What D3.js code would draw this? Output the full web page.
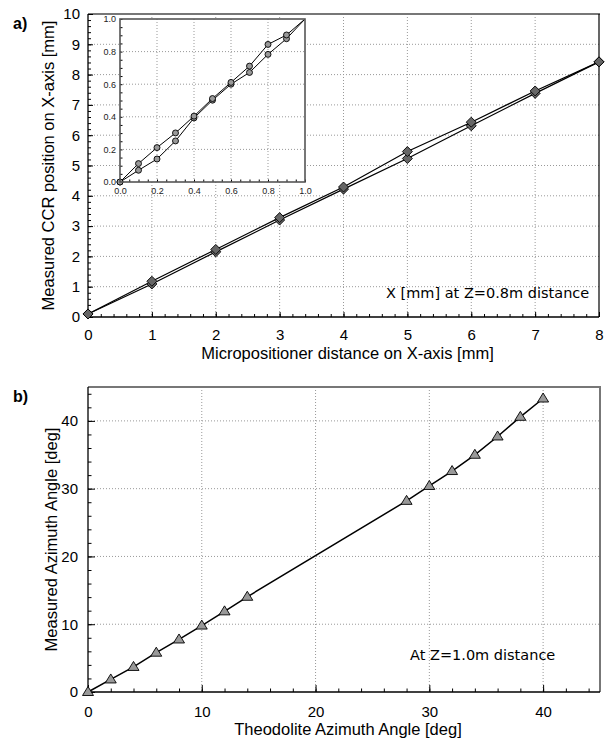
<!DOCTYPE html>
<html>
<head>
<meta charset="utf-8">
<script src="https://cdn.jsdelivr.net/npm/d3@7"></script>
<style>
  body { margin: 0; background: #fff; }
  svg { display: block; }
</style>
</head>
<body>
<svg id="chart" width="607" height="740"></svg>
<script>
// panel a: micropositioner test, two runs
var xA = [0, 1, 2, 3, 4, 5, 6, 7, 8];
var yA1 = [0.1, 1.18, 2.23, 3.28, 4.29, 5.46, 6.43, 7.46, 8.42];
var yA2 = [0.1, 1.09, 2.15, 3.2, 4.22, 5.23, 6.31, 7.38, 8.42];

// inset: 0..1 mm in 0.1 steps
var xIn = [0, 0.1, 0.2, 0.3, 0.4, 0.5, 0.6, 0.7, 0.8, 0.9, 1.0];
var yIn1 = [0, 0.113, 0.211, 0.301, 0.404, 0.512, 0.611, 0.711, 0.844, 0.902, 1.0];
var yIn2 = [0, 0.072, 0.141, 0.252, 0.393, 0.502, 0.600, 0.672, 0.783, 0.879, 1.0];

// panel b: azimuth
var xB = [0, 2, 4, 6, 8, 10, 12, 14, 28, 30, 32, 34, 36, 38, 40];
var yB = [0, 1.85, 3.7, 5.8, 7.75, 9.8, 11.9, 14.05, 28.2, 30.4, 32.6, 35.0, 37.7, 40.6, 43.3];

var aTicks = [0, 1, 2, 3, 4, 5, 6, 7, 8];
var aYTicks = [0, 1, 2, 3, 4, 5, 6, 7, 8, 9, 10];
var inTicks = [0, 0.2, 0.4, 0.6, 0.8, 1.0];
var bTicks = [0, 10, 20, 30, 40];

var svg = d3.select("#chart");
var sans = "Liberation Sans, Arial, sans-serif";

var diamond = "M0,-5L5,0L0,5L-5,0Z",
  triangle = "M0,-5.5L5.5,3.5L-5.5,3.5Z";

function zip(xs, ys) {
  return xs.map(function(x, i) { return {x: x, y: ys[i]}; });
}

function drawPanel(p) {
  var x = d3.scaleLinear().domain(p.xDomain).range([p.left, p.right]),
    y = d3.scaleLinear().domain(p.yDomain).range([p.bottom, p.top]),
    g = svg.append("g");

  // dotted grid
  g.selectAll(".gx").data(p.xTicks.filter(function(t) { return t > p.xDomain[0] && t < p.xDomain[1]; }))
    .enter().append("line")
    .attr("x1", function(d) { return x(d); }).attr("x2", function(d) { return x(d); })
    .attr("y1", p.top).attr("y2", p.bottom)
    .attr("stroke", "#999").attr("stroke-dasharray", "1,2");
  g.selectAll(".gy").data(p.yTicks.filter(function(t) { return t > p.yDomain[0] && t < p.yDomain[1]; }))
    .enter().append("line")
    .attr("y1", function(d) { return y(d); }).attr("y2", function(d) { return y(d); })
    .attr("x1", p.left).attr("x2", p.right)
    .attr("stroke", "#999").attr("stroke-dasharray", "1,2");

  // frame
  g.append("line").attr("x1", p.left).attr("x2", p.right + 1).attr("y1", p.top).attr("y2", p.top)
    .attr("stroke", "#777").attr("stroke-width", 2);
  g.append("line").attr("x1", p.right).attr("x2", p.right).attr("y1", p.top).attr("y2", p.bottom)
    .attr("stroke", p.rightColor).attr("stroke-width", p.rightWidth);

  var xAxis = d3.axisBottom(x).tickValues(p.xMinor).tickSize(-p.minorLen).tickFormat("");
  var yAxis = d3.axisLeft(y).tickValues(p.yMinor).tickSize(-p.minorLen).tickFormat("");
  g.append("g").attr("transform", "translate(0," + p.bottom + ")").call(xAxis)
    .call(function(s) { s.select(".domain").remove(); });
  g.append("g").attr("transform", "translate(" + p.left + ",0)").call(yAxis)
    .call(function(s) { s.select(".domain").remove(); });

  g.append("g").attr("transform", "translate(0," + p.bottom + ")")
    .call(d3.axisBottom(x).tickValues(p.xTicks).tickSize(-p.majorLen).tickPadding(p.majorLen + 7).tickFormat(d3.format("d")))
    .call(function(s) {
      s.select(".domain").attr("d", "M" + p.left + ",0H" + p.right).attr("stroke-width", 1.3);
      s.selectAll("text").style("font-size", "15px").style("font-family", sans);
    });
  g.append("g").attr("transform", "translate(" + p.left + ",0)")
    .call(d3.axisLeft(y).tickValues(p.yTicks).tickSize(-p.majorLen).tickPadding(p.majorLen + 3).tickFormat(d3.format("d")))
    .call(function(s) {
      s.select(".domain").attr("d", "M0," + p.bottom + "V" + p.top).attr("stroke-width", 1.3);
      s.selectAll("text").style("font-size", "15px").style("font-family", sans);
    });

  g.append("text").attr("x", (p.left + p.right) / 2 + 4).attr("y", p.bottom + p.xLabelGap)
    .attr("text-anchor", "middle").style("font-family", sans).style("font-size", "16.5px").text(p.xLabel);
  g.append("text").attr("transform", "translate(" + p.yLabelX + "," + (p.top + p.bottom) / 2 + ") rotate(-90)")
    .attr("text-anchor", "middle").attr("dominant-baseline", "central")
    .style("font-family", sans).style("font-size", "16.5px").text(p.yLabel);

  g.append("text").attr("x", 13).attr("y", p.top + 15)
    .style("font-family", sans).style("font-size", "16px").style("font-weight", "bold").text(p.tag);

  g.append("text").attr("x", p.noteX).attr("y", p.noteY)
    .style("font-family", "DejaVu Sans, sans-serif").style("font-size", "14.5px")
    .attr("dominant-baseline", "central").text(p.note);

  return {x: x, y: y, g: g};
}

function drawSeries(g, x, y, pts, lw) {
  var line = d3.line().x(function(d) { return x(d.x); }).y(function(d) { return y(d.y); });
  g.append("path").datum(pts).attr("d", line)
    .attr("fill", "none").attr("stroke", "#000").attr("stroke-width", lw);
}

function drawMarkers(g, x, y, pts, marker, fill) {
  g.selectAll(null).data(pts).enter().append("path")
    .attr("d", marker)
    .attr("transform", function(d) { return "translate(" + x(d.x) + "," + y(d.y) + ")"; })
    .attr("fill", fill).attr("stroke", "#000").attr("stroke-width", 0.9);
}

function range(a, b, s) {
  var out = [];
  for (var v = a; v <= b + 1e-9; v += s) out.push(+v.toFixed(4));
  return out;
}

// ---- panel a ----
var pa = drawPanel({
  left: 88, right: 599, top: 14, bottom: 317,
  xDomain: [0, 8], yDomain: [0, 10],
  xTicks: aTicks, yTicks: aYTicks,
  xMinor: range(0, 8, 0.2), yMinor: range(0, 10, 0.2),
  majorLen: 5, minorLen: 3,
  rightColor: "#000", rightWidth: 1.2,
  xLabel: "Micropositioner distance on X-axis [mm]", xLabelGap: 42,
  yLabel: "Measured CCR position on X-axis [mm]", yLabelX: 48,
  tag: "a)",
  note: "X [mm] at Z=0.8m distance", noteX: 386, noteY: 293
});
var ptsA1 = zip(xA, yA1), ptsA2 = zip(xA, yA2);
drawSeries(pa.g, pa.x, pa.y, ptsA1, 1.2);
drawSeries(pa.g, pa.x, pa.y, ptsA2, 1.2);
drawMarkers(pa.g, pa.x, pa.y, ptsA2, diamond, "#666");
drawMarkers(pa.g, pa.x, pa.y, ptsA1, diamond, "#666");

// ---- inset ----
var inL = 120, inR = 305, inT = 19, inB = 182;
var ix = d3.scaleLinear().domain([0, 1]).range([inL, inR]),
  iy = d3.scaleLinear().domain([0, 1]).range([inB, inT]),
  ig = svg.append("g");

ig.append("rect").attr("x", inL).attr("y", inT).attr("width", inR - inL).attr("height", inB - inT)
  .attr("fill", "#fff");
ig.selectAll(".igx").data([0.2, 0.4, 0.6, 0.8]).enter().append("line")
  .attr("x1", function(d) { return ix(d); }).attr("x2", function(d) { return ix(d); })
  .attr("y1", inT).attr("y2", inB).attr("stroke", "#999").attr("stroke-dasharray", "1,2");
ig.selectAll(".igy").data([0.2, 0.4, 0.6, 0.8]).enter().append("line")
  .attr("y1", function(d) { return iy(d); }).attr("y2", function(d) { return iy(d); })
  .attr("x1", inL).attr("x2", inR).attr("stroke", "#999").attr("stroke-dasharray", "1,2");

ig.append("g").attr("transform", "translate(0," + inB + ")")
  .call(d3.axisBottom(ix).tickValues(range(0, 1, 0.05)).tickSize(-2.5).tickFormat(""))
  .call(function(s) { s.select(".domain").remove(); });
ig.append("g").attr("transform", "translate(" + inL + ",0)")
  .call(d3.axisLeft(iy).tickValues(range(0, 1, 0.05)).tickSize(-2.5).tickFormat(""))
  .call(function(s) { s.select(".domain").remove(); });
ig.append("g").attr("transform", "translate(0," + inB + ")")
  .call(d3.axisBottom(ix).tickValues(inTicks).tickSize(0).tickPadding(6).tickFormat(d3.format(".1f")))
  .call(function(s) {
    s.select(".domain").remove();
    s.selectAll("text").style("font-size", "9px").attr("fill", "#222").style("font-family", sans);
  });
ig.append("g").attr("transform", "translate(" + inL + ",0)")
  .call(d3.axisLeft(iy).tickValues(inTicks).tickSize(0).tickPadding(4).tickFormat(d3.format(".1f")))
  .call(function(s) {
    s.select(".domain").remove();
    s.selectAll("text").style("font-size", "9px").attr("fill", "#222").style("font-family", sans);
  });

var clip = svg.append("clipPath").attr("id", "inclip");
clip.append("rect").attr("x", inL).attr("y", inT).attr("width", inR - inL).attr("height", inB - inT);
var ic = ig.append("g").attr("clip-path", "url(#inclip)");
var ptsIn1 = zip(xIn, yIn1), ptsIn2 = zip(xIn, yIn2);
drawSeries(ic, ix, iy, ptsIn1, 1);
drawSeries(ic, ix, iy, ptsIn2, 1);
var circ = d3.symbol().type(d3.symbolCircle).size(28)();
drawMarkers(ig, ix, iy, ptsIn2.filter(function(d) { return d.x < 1; }), circ, "#999");
drawMarkers(ig, ix, iy, ptsIn1.filter(function(d) { return d.x < 1; }), circ, "#999");

ig.append("rect").attr("x", inL).attr("y", inT).attr("width", inR - inL).attr("height", inB - inT)
  .attr("fill", "none").attr("stroke", "#555").attr("stroke-width", 1.6);

// ---- panel b ----
var pb = drawPanel({
  left: 88, right: 600, top: 387, bottom: 692,
  xDomain: [0, 45], yDomain: [0, 45],
  xTicks: bTicks, yTicks: bTicks,
  xMinor: range(0, 44, 2), yMinor: range(0, 44, 2),
  majorLen: 7, minorLen: 3.5,
  rightColor: "#777", rightWidth: 2,
  xLabel: "Theodolite Azimuth Angle [deg]", xLabelGap: 43,
  yLabel: "Measured Azimuth Angle [deg]", yLabelX: 51,
  tag: "b)",
  note: "At Z=1.0m distance", noteX: 410, noteY: 655
});
var ptsB = zip(xB, yB);
drawSeries(pb.g, pb.x, pb.y, ptsB, 1.5);
drawMarkers(pb.g, pb.x, pb.y, ptsB, triangle, "#999");
</script>
</body>
</html>
